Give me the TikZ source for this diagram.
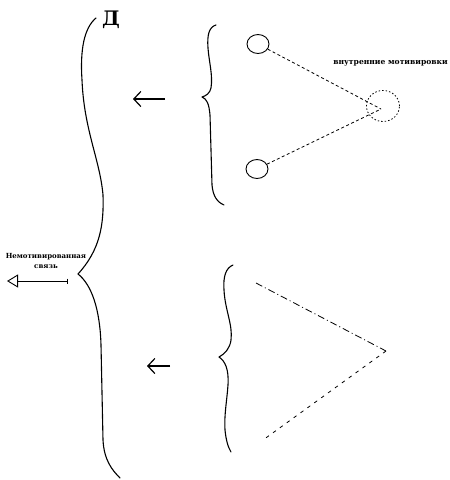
\documentclass[tikz,border=0pt]{standalone}
\usepackage{fontspec}
\usetikzlibrary{arrows.meta,shapes.geometric}
\newfontfamily\lblfont{DejaVu Serif}
\tikzset{
  brace/.style={line width=1.1pt,line cap=round,line join=round},
  hand/.style={line width=1.2pt},
  ring/.style={ellipse,draw,line width=0.9pt,inner sep=0pt},
  fine/.style={line width=0.8pt,dash pattern=on 3pt off 2.5pt},
  lbl/.style={font=\lblfont\bfseries\fontsize{7}{9.5}\selectfont,inner sep=0pt,align=center},
}
\begin{document}
\begin{tikzpicture}[x=1pt,y=-1pt]
\useasboundingbox (0,0) rectangle (450,480);
% big brace
\draw[brace] (96,18) .. controls (84,28) and (80,50) .. (82,80)
  .. controls (84,130) and (100,160) .. (103,195)
  .. controls (104,225) and (100,250) .. (78,274)
  .. controls (92,285) and (100,310) .. (101,345)
  -- (103,440) .. controls (104,460) and (112,470) .. (120,478);
\node[font=\lblfont\bfseries\fontsize{20}{20}\selectfont,inner sep=0pt] (D) at (111,20) {Д};
% upper small brace
\draw[brace] (216,25) .. controls (209,27) and (207,35) .. (208,48)
  .. controls (209,62) and (213,75) .. (211,88)
  .. controls (210,93) and (206,96) .. (202,97)
  .. controls (207,99) and (209,104) .. (210,115)
  -- (212,185) .. controls (213,196) and (217,202) .. (224,205);
% lower small brace
\draw[brace] (233,265) .. controls (226,268) and (223,276) .. (224,290)
  .. controls (225,310) and (233,325) .. (231,340)
  .. controls (230,348) and (225,354) .. (219,357)
  .. controls (225,361) and (229,369) .. (228,385)
  .. controls (227,400) and (224,415) .. (225,430)
  .. controls (226,440) and (228,447) .. (231,452);
% arrows
\coordinate (ua1) at (165,99);
\coordinate (ua2) at (133,99);
\draw[hand,-{Straight Barb[length=7pt,width=15pt]}] (ua1) -- (ua2);
\coordinate (la1) at (170,366);
\coordinate (la2) at (147,366);
\draw[hand,-{Straight Barb[length=7pt,width=15pt]}] (la1) -- (la2);
% left arrow
\coordinate (lt) at (7,281);
\coordinate (le) at (68,281);
\draw[line width=0.9pt,{Triangle[open,length=11pt,width=13pt]}-{Bar[width=5pt]}] (lt) -- (le);
\node[lbl] (nm) at (46,261) {Немотивированная\\связь};
% circles
\node[ring,minimum width=22pt,minimum height=19pt] (c1) at (258,44) {};
\node[ring,minimum width=22pt,minimum height=19pt] (c2) at (257,169) {};
\node[ellipse,draw,line width=0.8pt,dash pattern=on 1.5pt off 2pt,minimum width=33pt,minimum height=31pt,inner sep=0pt] (c3) at (383,106) {};
\coordinate (ap) at (381,109);
\draw[fine] (c1) -- (ap);
\draw[fine] (c2) -- (ap);
\node[lbl,font=\lblfont\bfseries\fontsize{7.6}{10}\selectfont,anchor=east] (vm) at (448,63) {внутренние мотивировки};
% lower triangle
\coordinate (t1) at (256,283);
\coordinate (t2) at (386,351);
\coordinate (t3) at (263,440);
\draw[line width=0.8pt,dash pattern=on 7pt off 3pt on 1pt off 3pt] (t1) -- (t2);
\draw[line width=0.8pt,dash pattern=on 3.5pt off 5pt] (t2) -- (t3);
\end{tikzpicture}
\end{document}
